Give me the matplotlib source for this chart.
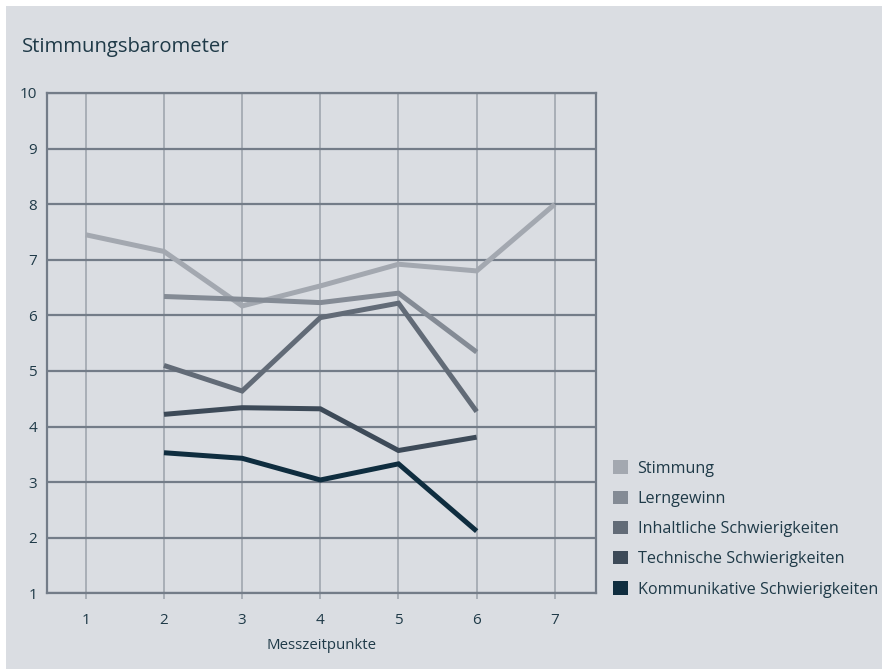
import matplotlib.pyplot as plt
from matplotlib.patches import Patch, Rectangle

plt.rcParams['font.family'] = ['Open Sans', 'DejaVu Sans']

# ---- data ----
x_all = [1, 2, 3, 4, 5, 6, 7]
x_sub = [2, 3, 4, 5, 6]
stimmung = [7.45, 7.15, 6.17, 6.53, 6.92, 6.80, 8.0]
lerngewinn = [6.34, 6.29, 6.23, 6.40, 5.34]
inhaltlich = [5.10, 4.64, 5.96, 6.22, 4.27]
technisch = [4.22, 4.34, 4.32, 3.57, 3.81]
kommunikativ = [3.53, 3.43, 3.04, 3.33, 2.12]

labels = ['Stimmung', 'Lerngewinn', 'Inhaltliche Schwierigkeiten',
          'Technische Schwierigkeiten', 'Kommunikative Schwierigkeiten']
colors = ['#a3a8b0', '#848b95', '#626b77', '#3d4a58', '#0f2d3f']
yticks = list(range(1, 11))

bg = '#dadde2'
txt = '#1f3a48'

fig = plt.figure(figsize=(8.82, 6.69), dpi=100)
fig.patch.set_facecolor('white')
fig.patches.append(Rectangle((6 / 882, 0), 1, 1 - 6 / 669, transform=fig.transFigure,
                             facecolor=bg, edgecolor='none', zorder=-1))

ax = fig.add_axes([0.053, 0.113, 0.623, 0.748])
ax.set_facecolor(bg)

series = [(x_all, stimmung), (x_sub, lerngewinn), (x_sub, inhaltlich),
          (x_sub, technisch), (x_sub, kommunikativ)]
for (xs, ys), clr in zip(series, colors):
    ax.plot(xs, ys, color=clr, linewidth=3.6, solid_capstyle='butt',
            solid_joinstyle='miter', zorder=3)

ax.set_xlim(0.5, 7.53)
ax.set_ylim(1, 10)
ax.set_xticks(x_all)
ax.set_yticks(yticks)

ax.grid(True, axis='y', color='#737c88', linewidth=1.6, zorder=0)
ax.grid(True, axis='x', color='#9ba1ab', linewidth=1.1, zorder=0)
ax.set_axisbelow(True)
for sp in ax.spines.values():
    sp.set_color('#737c88')
    sp.set_linewidth(1.6)

ax.tick_params(axis='x', length=4, width=1.1, color='#9ba1ab', pad=10,
               labelsize=11, labelcolor=txt)
ax.tick_params(axis='y', length=0, pad=7, labelsize=11, labelcolor=txt)

ax.set_xlabel('Messzeitpunkte', fontsize=10.8, color=txt, labelpad=7)
fig.text(22 / 882, 1 - 47 / 669, 'Stimmungsbarometer', fontsize=14.6,
         color=txt, va='center', ha='left')

handles = [Patch(facecolor=c, edgecolor='none') for c in colors]
fig.legend(handles, labels, loc='lower left',
           bbox_to_anchor=(607 / 882, (669 - 604) / 669),
           frameon=False, fontsize=11.6, labelcolor=txt,
           handlelength=0.9, handleheight=0.9, handletextpad=0.6,
           labelspacing=0.87, borderaxespad=0)

fig.savefig('out.png', dpi=100, facecolor=fig.get_facecolor())
